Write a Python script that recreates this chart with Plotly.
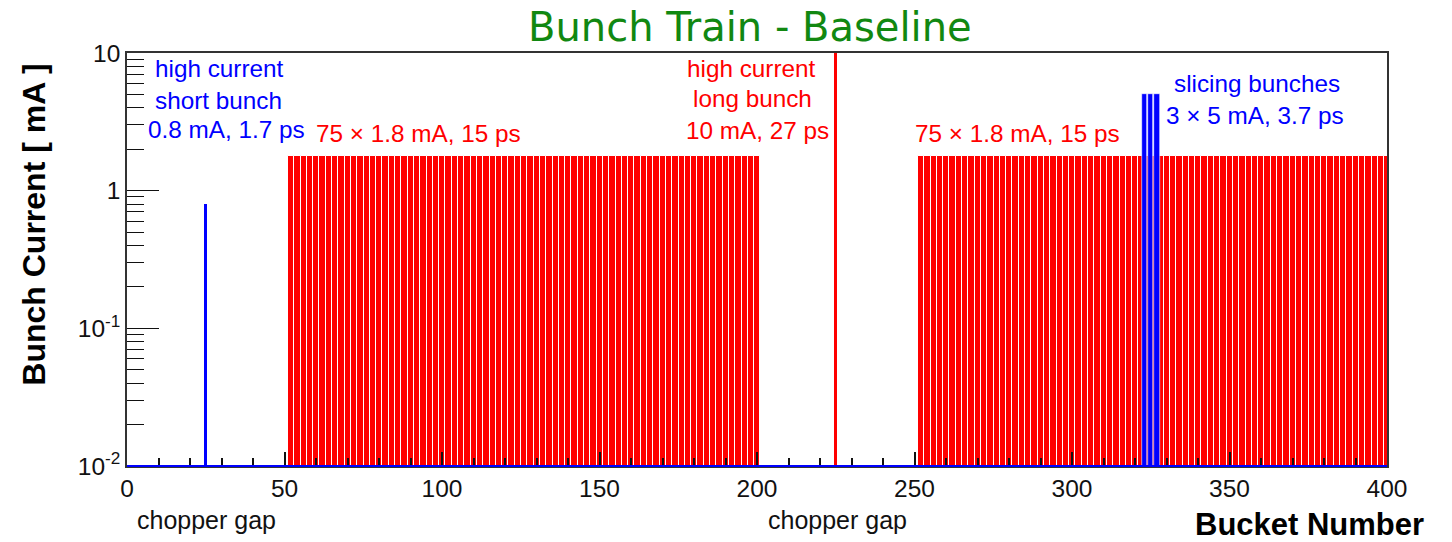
import plotly.graph_objects as go

# ---- data ----
train1_buckets = list(range(51, 200, 2))      # 75 bunches
train2_buckets = list(range(251, 400, 2))     # 75 bunches
train_current = 1.8                          # mA
short_bucket = [25]
short_current = [0.8]
long_bucket = [225]
long_current = [10]
slice_buckets = [323, 325, 327]
slice_current = [5, 5, 5]

y_tick_vals = [0.01, 0.1, 1, 10]
y_tick_text = ["10<sup>-2</sup>", "10<sup>-1</sup>", "1", "10"]
y_minor_vals = [m * d for d in (0.01, 0.1, 1) for m in range(2, 10)]
x_tick_vals = [0, 50, 100, 150, 200, 250, 300, 350, 400]

RED = "#ff0000"
BLUE = "#0000ff"
FONT = "Liberation Sans, Arial, sans-serif"

W, H = 1452, 542
L, R, T, B = 126.5, 1452 - 1386.8, 52.7, 542 - 466

fig = go.Figure()

fig.add_trace(go.Bar(x=train1_buckets + train2_buckets,
                     y=[train_current] * (len(train1_buckets) + len(train2_buckets)),
                     width=2, offset=0.1,
                     marker=dict(color=RED, line=dict(color="white", width=1)),
                     showlegend=False, hoverinfo="x+y"))
fig.add_trace(go.Bar(x=long_bucket, y=long_current, width=1, offset=-0.5,
                     marker=dict(color=RED, line=dict(width=0)),
                     showlegend=False))
fig.add_trace(go.Bar(x=short_bucket, y=short_current, width=1, offset=-0.5,
                     marker=dict(color=BLUE, line=dict(width=0)),
                     showlegend=False))
fig.add_trace(go.Bar(x=slice_buckets, y=slice_current, width=1.7, offset=-0.85,
                     marker=dict(color=BLUE, line=dict(color="white", width=0.6)),
                     showlegend=False))

pw = W - L - R
ph = H - T - B


def px2x(px):
    return (px - L) / pw


def py2y(py):
    return (H - B - py) / ph


ANN = 24.3
annots = [
    ("high current", 153, 68, BLUE, "left"),
    ("short bunch", 153, 100, BLUE, "left"),
    ("0.8 mA, 1.7 ps", 146, 129, BLUE, "left"),
    ("75 × 1.8 mA, 15 ps", 418, 133, RED, "center"),
    ("75 × 1.8 mA, 15 ps", 1017, 133, RED, "center"),
    ("high current", 751, 68, RED, "center"),
    ("long bunch", 752, 98, RED, "center"),
    ("10 mA, 27 ps", 757, 130, RED, "center"),
    ("slicing bunches", 1257, 83, BLUE, "center"),
    ("3 × 5 mA, 3.7 ps", 1255, 115, BLUE, "center"),
]
annotations = []
for txt, px, py, col, anc in annots:
    annotations.append(dict(text=txt, x=px2x(px), y=py2y(py), xref="paper", yref="paper",
                            xanchor=anc, yanchor="middle", showarrow=False,
                            font=dict(family=FONT, size=ANN, color=col)))

for px in (206, 837):
    annotations.append(dict(text="chopper gap", x=px2x(px), y=py2y(520), xref="paper", yref="paper",
                            xanchor="center", yanchor="middle", showarrow=False,
                            font=dict(family=FONT, size=25, color="#111111")))

annotations.append(dict(text="<b>Bucket Number</b>", x=px2x(1426), y=py2y(525), xref="paper", yref="paper",
                        xanchor="right", yanchor="middle", showarrow=False,
                        font=dict(family=FONT, size=31, color="black")))
annotations.append(dict(text="<b>Bunch Current [ mA ]</b>", x=px2x(34), y=py2y(225), xref="paper", yref="paper",
                        xanchor="center", yanchor="middle", textangle=-90, showarrow=False,
                        font=dict(family=FONT, size=32, color="black")))
annotations.append(dict(text="Bunch Train - Baseline", x=px2x(750), y=py2y(27), xref="paper", yref="paper",
                        xanchor="center", yanchor="middle", showarrow=False,
                        font=dict(family="DejaVu Sans, Verdana, sans-serif", size=40, color="#118811")))

fig.update_layout(
    width=W, height=H,
    margin=dict(l=L, r=R, t=T, b=B, pad=0),
    paper_bgcolor="white", plot_bgcolor="white",
    barmode="overlay", bargap=0,
    annotations=annotations,
    shapes=[dict(type="line", xref="paper", yref="paper", x0=0, x1=1, y0=0, y1=0,
                 line=dict(color=BLUE, width=2), layer="above")],
    font=dict(family=FONT),
)

fig.update_xaxes(range=[0, 400], tickvals=x_tick_vals, ticks="inside", ticklen=14, tickwidth=1.5,
                 tickcolor="#111111", showgrid=False, zeroline=False, layer="above traces",
                 showline=True, linecolor="#333333", linewidth=1.5, mirror=True,
                 tickfont=dict(family=FONT, size=24.5, color="#111111"),
                 minor=dict(dtick=10, tick0=0, ticks="inside", ticklen=8, tickwidth=1.5,
                            tickcolor="#111111", showgrid=False))
fig.update_yaxes(type="log", range=[-2, 1], tickmode="array", tickvals=y_tick_vals, ticktext=y_tick_text,
                 ticks="inside", ticklen=32, tickwidth=1.2, tickcolor="#111111",
                 showgrid=False, zeroline=False, layer="above traces",
                 showline=True, linecolor="#333333", linewidth=1.5, mirror=True,
                 tickfont=dict(family=FONT, size=24.5, color="#111111"),
                 minor=dict(tickmode="array", tickvals=y_minor_vals, ticks="inside", ticklen=17,
                            tickwidth=1.2, tickcolor="#111111", showgrid=False))

fig.write_html("out.html")
